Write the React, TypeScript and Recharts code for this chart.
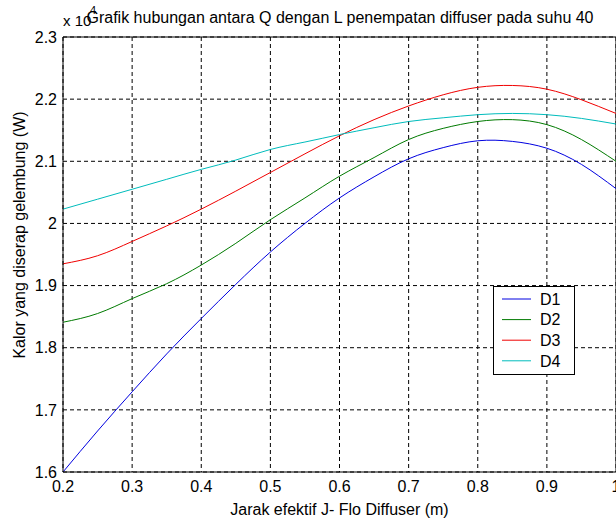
import React from 'react';
import { LineChart, Line, XAxis, YAxis, CartesianGrid, Legend, ReferenceLine } from 'recharts';

const xValues = [0.2, 0.25, 0.3, 0.35, 0.4, 0.45, 0.5, 0.55, 0.6, 0.65, 0.7, 0.75, 0.8, 0.85, 0.9, 0.95, 1.0];
const d1 = [16000, 16660, 17290, 17900, 18470, 19020, 19540, 20000, 20410, 20750, 21040, 21220, 21330, 21320, 21210, 20950, 20560];
const d2 = [18410, 18550, 18790, 19030, 19330, 19680, 20060, 20410, 20760, 21060, 21350, 21530, 21640, 21670, 21590, 21350, 21000];
const d3 = [19350, 19480, 19710, 19960, 20230, 20520, 20820, 21120, 21410, 21670, 21890, 22070, 22190, 22220, 22160, 21990, 21770];
const d4 = [20230, 20390, 20550, 20710, 20870, 21020, 21190, 21310, 21430, 21540, 21640, 21700, 21750, 21770, 21750, 21690, 21600];

const xTicks = [0.2, 0.3, 0.4, 0.5, 0.6, 0.7, 0.8, 0.9, 1];
const yTicks = [16000, 17000, 18000, 19000, 20000, 21000, 22000, 23000];

const seriesNames = ['D1', 'D2', 'D3', 'D4'];
const seriesColors = ['#0000e0', '#007a00', '#f00000', '#00bcbc'];

const titleText = 'Grafik hubungan antara Q dengan L penempatan diffuser pada suhu 40';
const xLabelText = 'Jarak efektif J- Flo Diffuser (m)';
const yLabelText = 'Kalor yang diserap gelembung (W)';

const data = xValues.map((x, i) => ({ x, D1: d1[i], D2: d2[i], D3: d3[i], D4: d4[i] }));

const FONT = '"Liberation Sans", Arial, sans-serif';

const LegendBox = (props: any) => {
  const payload = props.payload || [];
  return (
    <svg width={83} height={90} style={{ display: 'block' }}>
      <rect x={0.5} y={0.5} width={81} height={88} fill="#fff" stroke="#000" strokeWidth={1} />
      {payload.map((p: any, i: number) => {
        const cy = 13 + i * 20.6;
        return (
          <g key={p.value}>
            <line x1={9} x2={38} y1={cy} y2={cy} stroke={p.color} strokeWidth={1} />
            <text x={47} y={cy + 5.7} fontSize={16} fontFamily={FONT} fill="#000">{p.value}</text>
          </g>
        );
      })}
    </svg>
  );
};

export default function App() {
  return (
    <div style={{ position: 'absolute', left: 0, top: 0, width: 616, height: 521, overflow: 'hidden', background: '#fff' }}>
      <LineChart width={620} height={521} data={data} margin={{ top: 37, right: 4, left: 0, bottom: 19 }}>
        <CartesianGrid stroke="#000" strokeDasharray="4 3" strokeWidth={1} />
        <XAxis
          dataKey="x"
          type="number"
          domain={[0.2, 1]}
          ticks={xTicks}
          interval={0}
          height={30}
          tickLine={false}
          tickSize={0}
          tickMargin={9}
          axisLine={{ stroke: '#000', strokeWidth: 1 }}
          tick={{ fill: '#000', fontSize: 16, fontFamily: FONT }}
          tickFormatter={(v: number) => String(v)}
          allowDataOverflow
        />
        <YAxis
          type="number"
          domain={[16000, 23000]}
          ticks={yTicks}
          interval={0}
          width={63}
          tickLine={false}
          tickSize={0}
          tickMargin={6}
          axisLine={{ stroke: '#000', strokeWidth: 1 }}
          tick={{ fill: '#000', fontSize: 16, fontFamily: FONT }}
          tickFormatter={(v: number) => String(v / 10000)}
          allowDataOverflow
        />
        <ReferenceLine y={23000} stroke="#000" strokeWidth={1} />
        <ReferenceLine x={1} stroke="#000" strokeWidth={1} />
        {seriesNames.map((n, i) => (
          <Line
            key={n}
            type="natural"
            dataKey={n}
            name={n}
            stroke={seriesColors[i]}
            strokeWidth={1}
            dot={false}
            activeDot={false}
            isAnimationActive={false}
          />
        ))}
        <Legend
          layout="vertical"
          align="center"
          verticalAlign="middle"
          content={<LegendBox />}
          wrapperStyle={{ left: 493, top: 286, width: 83, height: 90 }}
        />
      </LineChart>
      <svg width={616} height={521} style={{ position: 'absolute', left: 0, top: 0, pointerEvents: 'none' }}>
        <text x={340} y={23} textAnchor="middle" fontSize={16} fontFamily={FONT} fill="#000">{titleText}</text>
        <text x={63} y={26} fontSize={15} fontFamily={FONT} fill="#000">x 10</text>
        <text x={90} y={14} fontSize={11} fontFamily={FONT} fill="#000">4</text>
        <text x={339.5} y={515} textAnchor="middle" fontSize={16} fontFamily={FONT} fill="#000">{xLabelText}</text>
        <text x={25} y={235} transform="rotate(-90 25 235)" textAnchor="middle" fontSize={16} fontFamily={FONT} fill="#000">{yLabelText}</text>
      </svg>
    </div>
  );
}
